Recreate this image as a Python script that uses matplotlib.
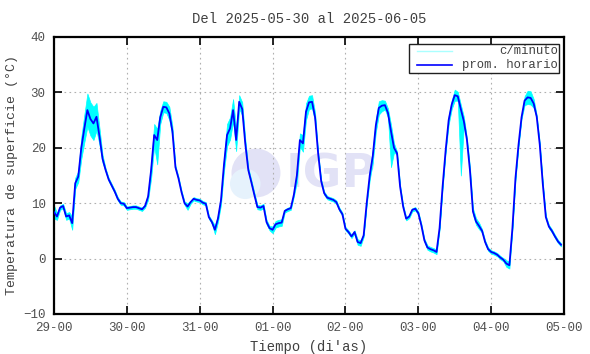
import numpy as np
import matplotlib
matplotlib.use("Agg")
import matplotlib.pyplot as plt
from matplotlib.patches import Ellipse, Rectangle
from matplotlib.lines import Line2D

plt.rcParams['font.family'] = ['Liberation Mono', 'DejaVu Sans Mono']

# ---- data (hourly averages, degC) ----
titulo = "Del 2025-05-30 al 2025-06-05"
etiquetas_x = ["29-00", "30-00", "31-00", "01-00", "02-00", "03-00", "04-00", "05-00"]

prom_horario = [
    # 29
    8.4, 7.6, 9.2, 9.5, 7.6, 7.8, 6.4, 13.6, 14.8, 20.0, 23.5, 26.8,
    25.2, 24.4, 25.6, 22.0, 18.0, 16.0, 14.3, 13.2, 12.1, 10.8, 10.0, 9.9,
    # 30
    9.1, 9.2, 9.3, 9.3, 9.1, 8.9, 9.5, 11.2, 16.0, 22.3, 21.4, 25.5,
    27.4, 27.3, 26.2, 23.0, 16.5, 14.5, 12.0, 10.0, 9.4, 10.2, 10.8, 10.6,
    # 31
    10.5, 10.1, 9.9, 7.5, 6.6, 5.2, 7.2, 10.5, 17.0, 22.3, 23.5, 26.8,
    21.4, 28.3, 27.0, 20.8, 16.0, 13.8, 11.5, 9.3, 9.2, 9.5, 6.6, 5.5,
    # 01
    5.2, 6.2, 6.4, 6.5, 8.6, 8.9, 9.1, 11.5, 15.0, 21.4, 20.8, 26.5,
    28.2, 28.3, 25.5, 19.0, 14.0, 11.8, 11.0, 10.8, 10.6, 10.2, 8.9, 8.0,
    # 02
    5.4, 4.8, 4.0, 4.8, 3.0, 2.8, 4.2, 10.0, 15.0, 18.5, 24.0, 27.2,
    27.6, 27.7, 26.3, 23.0, 20.0, 19.0, 13.0, 9.4, 7.2, 7.6, 8.8, 9.0,
    # 03
    8.2, 6.0, 3.3, 2.0, 1.7, 1.5, 1.2, 5.5, 13.0, 19.5, 25.0, 27.8,
    29.5, 29.3, 27.0, 24.8, 21.5, 16.0, 8.5, 6.7, 5.9, 5.0, 3.0, 1.7,
    # 04
    1.2, 1.0, 0.7, 0.2, -0.2, -0.9, -1.2, 5.5, 14.5, 20.5, 25.5, 28.5,
    29.1, 29.0, 28.0, 25.6, 20.6, 13.5, 7.5, 5.8, 5.0, 4.0, 3.1, 2.5,
]

# spread of the per-minute trace around the hourly mean (degC)
dispersion_minuto = [
    # 29
    1.2, 0.6, 0.4, 0.4, 0.6, 0.6, 1.2, 1.0, 1.0, 2.0, 2.5, 3.0,
    3.0, 3.0, 2.5, 1.5, 0.7, 0.3, 0.3, 0.3, 0.3, 0.3, 0.3, 0.3,
    # 30
    0.3, 0.3, 0.3, 0.3, 0.3, 0.3, 0.3, 0.6, 1.5, 2.0, 2.0, 1.2,
    1.0, 1.0, 1.2, 0.9, 0.3, 0.3, 0.3, 0.3, 0.6, 0.3, 0.3, 0.3,
    # 31
    0.3, 0.3, 0.3, 0.3, 0.3, 0.8, 0.6, 0.8, 1.2, 2.0, 2.0, 2.0,
    2.0, 1.2, 1.2, 0.8, 0.4, 0.4, 0.4, 0.4, 0.4, 0.4, 0.4, 0.4,
    # 01
    0.6, 0.6, 0.6, 0.6, 0.3, 0.3, 0.3, 0.3, 1.2, 1.2, 1.5, 1.5,
    1.2, 1.2, 0.8, 0.3, 0.3, 0.3, 0.3, 0.3, 0.3, 0.3, 0.3, 0.3,
    # 02
    0.3, 0.3, 0.3, 0.3, 0.5, 0.5, 0.3, 0.3, 0.8, 1.2, 1.2, 1.2,
    1.0, 0.8, 0.8, 1.2, 0.8, 0.3, 0.3, 0.3, 0.3, 0.3, 0.3, 0.3,
    # 03
    0.3, 0.3, 0.3, 0.4, 0.4, 0.4, 0.4, 0.3, 0.3, 0.3, 0.8, 0.8,
    1.0, 0.8, 0.8, 0.8, 0.3, 0.6, 0.6, 0.6, 0.6, 0.3, 0.3, 0.3,
    # 04
    0.3, 0.3, 0.3, 0.3, 0.3, 0.6, 0.6, 0.3, 0.3, 0.3, 0.3, 0.8,
    1.2, 1.2, 0.8, 0.3, 0.3, 0.3, 0.3, 0.3, 0.3, 0.3, 0.3, 0.3,
]

# isolated downward spikes of the per-minute trace: (hour, value)
picos_minuto = [(34, 17.0), (111, 16.5), (134, 15.0)]

horas = np.arange(len(prom_horario))
prom = np.array(prom_horario)
disp = np.array(dispersion_minuto)
alto = prom + disp
bajo = prom - disp
for h, v in picos_minuto:
    bajo[h] = min(bajo[h], v)

fig = plt.figure(figsize=(5.9, 3.54), dpi=100)
ax = fig.add_axes([0.0915, 0.113, 0.8645, 0.7825])

gris = "#404040"

# watermark (IGP logo)
ax.add_patch(Ellipse((0.396, 0.509), 0.096, 0.176, transform=ax.transAxes,
                     facecolor="#e2e2f6", edgecolor="none", zorder=0))
ax.add_patch(Ellipse((0.375, 0.47), 0.06, 0.11, transform=ax.transAxes,
                     facecolor="#e6f2fc", edgecolor="none", zorder=0))
ax.text(0.455, 0.50, "IGP", transform=ax.transAxes, fontsize=34, fontweight="bold",
        family="DejaVu Sans", color="#e2e2f6", va="center", ha="left", zorder=0)

ax.fill_between(horas, bajo, alto, color="#00ffff", linewidth=0.5, zorder=2)
ax.plot(horas, prom, color="#0000ff", linewidth=1.3, zorder=3)

ax.set_xlim(0, 168)
ax.set_ylim(-10, 40)
ax.set_xticks(np.arange(0, 169, 24))
ax.set_xticklabels(etiquetas_x)
ax.set_yticks(np.arange(-10, 41, 10))
ax.grid(True, color="#b0b0b0", linestyle=(0, (1.5, 3)), linewidth=0.8)
ax.tick_params(direction="in", length=6, width=1.2, top=True, right=True,
               labelsize=9, labelcolor="#505050", pad=6)
for s in ax.spines.values():
    s.set_linewidth(1.6)

ax.set_title(titulo, fontsize=10, color=gris, pad=10)
ax.set_xlabel("Tiempo (di'as)", fontsize=10, color=gris, labelpad=4)
ax.set_ylabel("Temperatura de superficie (°C)", fontsize=9.5, color=gris, labelpad=4)

# legend box drawn gnuplot style (samples left, text right aligned)
ax.add_patch(Rectangle((0.697, 0.869), 0.293, 0.105, transform=ax.transAxes,
                       facecolor="white", edgecolor="#202020", linewidth=1.0, zorder=4))
ax.add_line(Line2D([0.712, 0.78], [0.95, 0.95], transform=ax.transAxes,
                   color="#aaffff", linewidth=1.0, zorder=5))
ax.add_line(Line2D([0.712, 0.78], [0.9, 0.9], transform=ax.transAxes,
                   color="#0000ff", linewidth=1.2, zorder=5))
ax.text(0.988, 0.95, "c/minuto", transform=ax.transAxes, ha="right", va="center",
        fontsize=8.8, color=gris, zorder=5)
ax.text(0.988, 0.9, "prom. horario", transform=ax.transAxes, ha="right", va="center",
        fontsize=8.8, color=gris, zorder=5)

fig.savefig("out.png", dpi=100)
